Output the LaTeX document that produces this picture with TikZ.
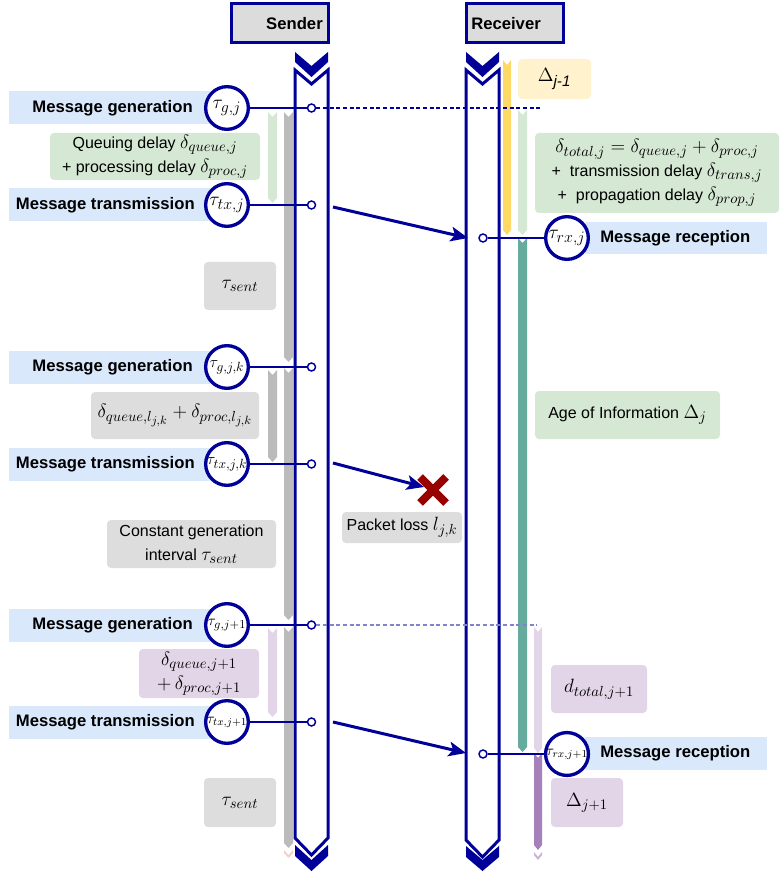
\documentclass[tikz,border=0pt]{standalone}
\usepackage{amsmath}
\usepackage{fontspec}
\setmainfont{Liberation Sans}
\usetikzlibrary{arrows.meta}
\DeclareMathSizes{14.5}{14.5}{11.4}{9}
\DeclareMathSizes{15}{15}{11.8}{9.4}
\DeclareMathSizes{13}{13}{10.2}{8}
\DeclareMathSizes{12.5}{12.5}{9.8}{7.8}
\DeclareMathSizes{11}{11}{8.6}{7}
\DeclareMathSizes{10.5}{10.5}{8.2}{6.6}
\definecolor{dblue}{RGB}{0,0,153}
\definecolor{lblue}{HTML}{DAE8FC}
\definecolor{lgreen}{HTML}{D5E8D4}
\definecolor{lgray}{HTML}{DDDDDD}
\definecolor{bgray}{HTML}{BBBBBB}
\definecolor{hgray}{HTML}{DCDCDC}
\definecolor{lyellow}{HTML}{FFF2CC}
\definecolor{byellow}{HTML}{FFD966}
\definecolor{tealbar}{HTML}{67AB9F}
\definecolor{lpurple}{HTML}{E1D5E7}
\definecolor{bpurple}{HTML}{A680B8}
\definecolor{xred}{HTML}{990000}
\definecolor{dashc}{RGB}{130,130,210}
\definecolor{lpink}{HTML}{F8CECC}
\definecolor{mpurple}{HTML}{C9B3D6}

\newcommand\mm[1]{{\fontsize{14.5}{17}\selectfont$#1$}}
\newcommand\evt[2]{{\fontsize{#1}{#1}\selectfont$#2$}}
\newcommand\tbar[5]{\fill[#5] (#1,#3) -- ({(#1+#2)/2},{#3+5}) -- (#2,#3) -- (#2,{#4-5}) -- ({(#1+#2)/2},#4) -- (#1,{#4-5}) -- cycle;}
\newcommand\tchev[4]{\fill[#4] (#1,#3) -- ({(#1+#2)/2},{#3+5}) -- (#2,#3) -- (#2,{#3+3}) -- ({(#1+#2)/2},{#3+8}) -- (#1,{#3+3}) -- cycle;}
\newcommand\bx[7]{\node[tbox,fill=#6,minimum width={(#4-#2)*0.75pt},minimum height={(#5-#3)*0.75pt}] (#1) at ({(#2+#4)/2},{(#3+#5)/2}) {#7};}

\begin{document}
\begin{tikzpicture}[x=0.75pt,y=-0.75pt,
  lifeline/.style={draw=dblue,line width=2.25pt,fill=white,line join=miter},
  chev/.style={fill=dblue},
  header/.style={draw=dblue,line width=2.25pt,fill=hgray},
  event/.style={circle,draw=dblue,line width=2.5pt,fill=white,minimum size=32pt,inner sep=0pt},
  dot/.style={circle,draw=dblue,fill=white,line width=1.1pt,minimum size=6pt,inner sep=0pt},
  conn/.style={draw=dblue,line width=1.9pt},
  dashln/.style={draw=dblue,line width=0.9pt,dash pattern=on 3pt off 2pt},
  dashln2/.style={draw=dashc,line width=0.9pt,dash pattern=on 3pt off 2pt},
  msg/.style={draw=dblue,line width=2.25pt,-{Stealth[length=13pt,width=11pt,inset=3pt]}},
  lbltext/.style={font=\bfseries\fontsize{12.5}{15}\selectfont,inner sep=0pt},
  tbox/.style={rounded corners=3pt,inner sep=0pt,align=center,font=\fontsize{12}{18}\selectfont},
]
\useasboundingbox (0,0) rectangle (779,873);

% headers
\draw[header] (231,4) rectangle (328,43);
\node[lbltext,anchor=east] (sender) at (323,24) {Sender};
\draw[header] (466,4) rectangle (563,43);
\node[lbltext,anchor=west] (receiver) at (471,24) {Receiver};

% lifelines
\draw[lifeline] (295,70) -- (311.5,84) -- (328,70) -- (328,838) -- (311.5,855) -- (295,838) -- cycle;
\fill[chev] (295,52) -- (311.5,66) -- (328,52) -- (328,62) -- (311.5,77) -- (295,62) -- cycle;
\fill[chev] (295,845) -- (311.5,860) -- (328,845) -- (328,856) -- (311.5,871) -- (295,856) -- cycle;
\draw[lifeline] (466,70) -- (482.5,84) -- (499,70) -- (499,840) -- (482.5,857) -- (466,840) -- cycle;
\fill[chev] (466,52) -- (482.5,66) -- (499,52) -- (499,62) -- (482.5,77) -- (466,62) -- cycle;
\fill[chev] (466,846) -- (482.5,860) -- (499,846) -- (499,857) -- (482.5,871) -- (466,857) -- cycle;

% time bars sender
\tbar{268}{277}{112}{203}{lgreen}
\tbar{284}{293}{112}{362}{bgray}
\tbar{268}{277}{370}{462}{bgray}
\tbar{284}{293}{368}{620}{bgray}
\tbar{268}{277}{628}{717}{lpurple}
\tbar{284}{293}{627}{848}{bgray}
\tchev{284}{293}{850}{lpink}
% time bars receiver
\tbar{503}{511}{60}{235}{byellow}
\tbar{518}{527}{110}{235}{lgreen}
\tbar{518}{527}{238}{752}{tealbar}
\tbar{534}{542}{627}{753}{lpurple}
\tbar{534}{542}{753}{850}{bpurple}
\tchev{534}{542}{852}{mpurple}

% label backgrounds
\foreach \yy in {108,205,367,464,625,722}{\fill[lblue] (9,\yy-16.5) rectangle (210,\yy+16.5);}
\fill[lblue] (585,222) rectangle (767,254);
\fill[lblue] (585,737) rectangle (767,770);

\node[lbltext,anchor=east] (gl1) at (193,108) {Message generation};
\node[lbltext,anchor=east] (tl1) at (195,205) {Message transmission};
\node[lbltext,anchor=east] (gl2) at (193,367) {Message generation};
\node[lbltext,anchor=east] (tl2) at (195,464) {Message transmission};
\node[lbltext,anchor=east] (gl3) at (193,625) {Message generation};
\node[lbltext,anchor=east] (tl3) at (195,722) {Message transmission};
\node[lbltext,anchor=west] (rl1) at (600,238) {Message reception};
\node[lbltext,anchor=west] (rl2) at (600,753) {Message reception};

% text boxes
\bx{qd1}{50}{133}{260}{180}{lgreen}{Queuing delay \mm{\delta_{queue,j}}\\+ processing delay \mm{\delta_{proc,j}}}
\bx{ts1}{204}{262}{276}{310}{lgray}{\mm{\tau_{sent}}}
\bx{qd2}{91}{392}{259}{439}{lgray}{\mm{\delta_{queue,l_{j,k}}+\delta_{proc,l_{j,k}}}}
\bx{cgi}{107}{520}{276}{568}{lgray}{Constant generation\\interval \mm{\tau_{sent}}}
\bx{pl}{342}{512}{462}{543}{lgray}{Packet loss \mm{l_{j,k}}}
\bx{qd3}{139}{649}{259}{698}{lpurple}{\mm{\delta_{queue,j+1}}\\\mm{+\,\delta_{proc,j+1}}}
\bx{ts2}{204}{778}{276}{827}{lgray}{\mm{\tau_{sent}}}
\bx{aoi0}{518}{59}{591}{99}{lyellow}{\mm{\Delta_{\text{\itshape j-1}}}}
\bx{dt}{535}{133}{779}{213}{lgreen}{\mm{\delta_{total,j}=\delta_{queue,j}+\delta_{proc,j}}\\+\ \ transmission delay \mm{\delta_{trans,j}}\\+\ \ propagation delay \mm{\delta_{prop,j}}}
\bx{aoi}{535}{391}{720}{439}{lgreen}{Age of Information \mm{\Delta_j}}
\bx{dt2}{551}{665}{647}{713}{lpurple}{\mm{d_{total,j+1}}}
\bx{aoi2}{551}{778}{623}{827}{lpurple}{\mm{\Delta_{j+1}}}

% sender events
\node[event] (g1) at (227,108) {\evt{15}{\tau_{g,j}}};
\node[event] (t1) at (227,205) {\evt{15}{\tau_{tx,j}}};
\node[event] (g2) at (227,367) {\evt{13}{\tau_{g,j,k}}};
\node[event] (t2) at (227,464) {\evt{12.5}{\tau_{tx,j,k}}};
\node[event] (g3) at (227,625) {\evt{11}{\tau_{g,j+1}}};
\node[event] (t3) at (227,722) {\evt{10.5}{\tau_{tx,j+1}}};
\foreach \n/\yy in {g1/108,t1/205,g2/367,t2/464,g3/625,t3/722}{
  \node[dot] (\n d) at (311.5,\yy) {};
  \draw[conn] (\n) -- (\n d);
}
% receiver events
\node[event] (r1) at (567,238) {\evt{15}{\tau_{rx,j}}};
\node[event] (r2) at (567,754) {\evt{10.5}{\tau_{rx,j+1}}};
\node[dot] (r1d) at (483,238) {};
\node[dot] (r2d) at (483,754) {};
\draw[conn] (r1d) -- (r1);
\draw[conn] (r2d) -- (r2);

% dashed references
\coordinate (de1) at (542,108);
\coordinate (de3) at (537,625);
\draw[dashln] (g1d) -- (de1);
\draw[dashln2] (g3d) -- (de3);

% messages
\coordinate (a1s) at (333,207);
\coordinate (a1e) at (468,238);
\coordinate (a2s) at (333,463);
\coordinate (a2e) at (424,487);
\coordinate (a3s) at (333,722);
\coordinate (a3e) at (466,753);
\draw[msg] (a1s) -- (a1e);
\draw[msg] (a2s) -- (a2e);
\draw[msg] (a3s) -- (a3e);

% packet loss cross
\coordinate (lossx) at (433,490);
\draw[xred,line width=6pt] ([shift={(-13,-13)}]lossx) -- ([shift={(13,13)}]lossx)
                          ([shift={(13,-13)}]lossx) -- ([shift={(-13,13)}]lossx);
\end{tikzpicture}
\end{document}
